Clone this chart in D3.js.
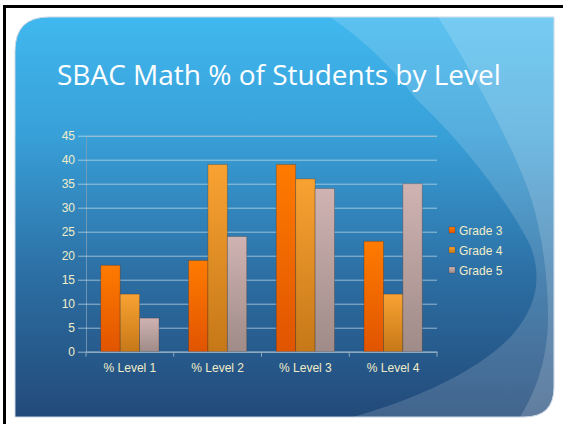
<!DOCTYPE html>
<html>
<head>
<meta charset="utf-8">
<script src="https://cdn.jsdelivr.net/npm/d3@7"></script>
<style>
  html, body { margin: 0; padding: 0; background: #fff; }
  svg { display: block; }
</style>
</head>
<body>
<div id="chart"></div>
<script>
// chart data
const categories = ['% Level 1', '% Level 2', '% Level 3', '% Level 4'];
const seriesNames = ['Grade 3', 'Grade 4', 'Grade 5'];
const grade3 = [18, 19, 39, 23];
const grade4 = [12, 39, 36, 12];
const grade5 = [7, 24, 34, 35];
const yTicks = [0, 5, 10, 15, 20, 25, 30, 35, 40, 45];
const titleText = 'SBAC Math % of Students by Level';

const seriesValues = [grade3, grade4, grade5];
const barColors = [
  ['#ff7b00', '#e05400'],
  ['#f8a232', '#c67818'],
  ['#cfb3b2', '#9f8b87']
];

const W = 563, H = 424;
const svg = d3.select('#chart').append('svg')
  .attr('width', W).attr('height', H);

const defs = svg.append('defs');

// slide background gradient
const bg = defs.append('linearGradient').attr('id', 'slideBg')
  .attr('x1', 0).attr('y1', 0).attr('x2', 0).attr('y2', 1);
bg.append('stop').attr('offset', '0%').attr('stop-color', '#40b8ef');
bg.append('stop').attr('offset', '30%').attr('stop-color', '#389fd7');
bg.append('stop').attr('offset', '65%').attr('stop-color', '#2c6ea3');
bg.append('stop').attr('offset', '100%').attr('stop-color', '#224a79');

barColors.forEach((c, i) => {
  const g = defs.append('linearGradient').attr('id', 'bar' + i)
    .attr('x1', 0).attr('y1', 0).attr('x2', 0).attr('y2', 1);
  g.append('stop').attr('offset', '0%').attr('stop-color', c[0]);
  g.append('stop').attr('offset', '100%').attr('stop-color', c[1]);
});

// slide shape: rounded top-left and bottom-right corners
const sx0 = 15, sy0 = 17, sx1 = 554, sy1 = 417, r1 = 34, r2 = 30;
const slidePath = `M${sx0},${sy0 + r1} Q${sx0},${sy0} ${sx0 + r1},${sy0} L${sx1},${sy0} ` +
  `L${sx1},${sy1 - r2} Q${sx1},${sy1} ${sx1 - r2},${sy1} L${sx0},${sy1} Z`;

defs.append('clipPath').attr('id', 'slideClip')
  .append('path').attr('d', slidePath);

// frame lines
svg.append('rect').attr('x', 3).attr('y', 5).attr('width', W - 3).attr('height', 3).attr('fill', '#000');
svg.append('rect').attr('x', 3).attr('y', 5).attr('width', 3).attr('height', H - 5).attr('fill', '#000');

svg.append('path').attr('d', slidePath).attr('fill', 'url(#slideBg)')
  .attr('stroke', '#c9d6e3').attr('stroke-width', 1);

// decorative swooshes
const deco = svg.append('g').attr('clip-path', 'url(#slideClip)');
deco.append('path')
  .attr('d', 'M330,17 C375,48 400,78 417,100 C455,135 505,195 530,245 C542,275 538,305 513,334 ' +
    'C490,360 440,392 353,417 L560,417 L560,17 Z')
  .attr('fill', '#fff').attr('opacity', 0.15);
deco.append('path')
  .attr('d', 'M438,17 C465,60 505,130 526,184 C540,220 548,270 548,317 C548,350 540,385 520,417 ' +
    'L560,417 L560,17 Z')
  .attr('fill', '#fff').attr('opacity', 0.16);

// title
svg.append('text')
  .attr('x', 57).attr('y', 85)
  .attr('fill', '#fff')
  .style('font-family', '"Open Sans", "DejaVu Sans", sans-serif')
  .style('font-size', '28px')
  .text(titleText);

// scales
const plotLeft = 86, plotRight = 437, plotTop = 135.7, plotBottom = 351.7;
const x = d3.scaleBand().domain(categories).range([plotLeft, plotRight])
  .paddingInner(0.336).paddingOuter(0.168);
const xs = d3.scaleBand().domain(d3.range(seriesNames.length)).range([0, x.bandwidth()]);
const y = d3.scaleLinear().domain([0, 45]).range([plotBottom, plotTop]);

const labelColor = '#f1edc8';
const font = '"Liberation Sans", Arial, sans-serif';

// gridlines + y axis
const yAxis = d3.axisLeft(y).tickValues(yTicks).tickSize(-(plotRight - plotLeft)).tickPadding(11);
const yg = svg.append('g').attr('transform', `translate(${plotLeft},0)`).call(yAxis);
yg.select('.domain').attr('stroke', '#7f9fb8').attr('stroke-opacity', 0.8);
yg.selectAll('.tick line').attr('stroke', '#d3e6f0').attr('stroke-opacity', 0.65).attr('x1', -8);
yg.selectAll('.tick text').attr('fill', labelColor)
  .style('font-family', font).style('font-size', '12px');

// bars
const groups = svg.append('g').selectAll('g')
  .data(categories).join('g')
  .attr('transform', d => `translate(${x(d)},0)`);

groups.selectAll('rect')
  .data((d, ci) => seriesValues.map((vals, si) => ({ si, v: vals[ci] })))
  .join('rect')
  .attr('x', d => xs(d.si))
  .attr('y', d => y(d.v))
  .attr('width', xs.bandwidth())
  .attr('height', d => y(0) - y(d.v))
  .attr('fill', d => `url(#bar${d.si})`)
  .attr('stroke', 'rgba(60,40,30,0.35)')
  .attr('stroke-width', 0.8);

// x axis
const xAxis = d3.axisBottom(x).tickSize(0).tickPadding(12);
const xg = svg.append('g').attr('transform', `translate(0,${plotBottom})`).call(xAxis);
xg.select('.domain').attr('stroke', '#8fa9bf');
xg.selectAll('.tick text').attr('fill', labelColor)
  .style('font-family', font).style('font-size', '12px');
// category boundary ticks
const bounds = categories.map(c => x(c) - x.step() * x.paddingInner() / 2).concat([plotRight]);
xg.selectAll('line.bound').data(bounds).join('line')
  .attr('class', 'bound')
  .attr('x1', d => d).attr('x2', d => d)
  .attr('y1', 0).attr('y2', 5)
  .attr('stroke', '#8fa9bf');

// legend
const legend = svg.append('g').attr('transform', 'translate(449,227)');
const li = legend.selectAll('g').data(seriesNames).join('g')
  .attr('transform', (d, i) => `translate(0,${i * 20})`);
li.append('rect').attr('width', 6).attr('height', 6)
  .attr('fill', (d, i) => `url(#bar${i})`)
  .attr('stroke', 'rgba(60,40,30,0.35)').attr('stroke-width', 0.6);
li.append('text').attr('x', 10).attr('y', 8)
  .attr('fill', labelColor)
  .style('font-family', font).style('font-size', '12px')
  .text(d => d);
</script>
</body>
</html>
